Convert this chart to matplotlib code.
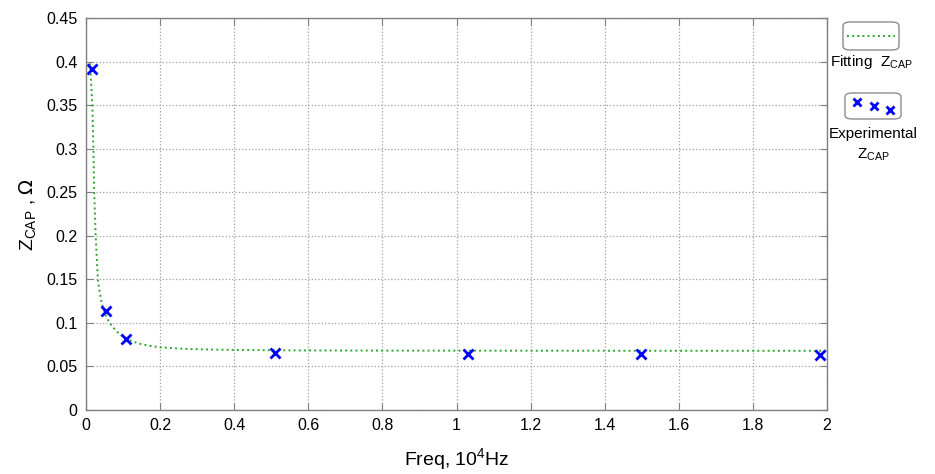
import matplotlib.pyplot as plt
import matplotlib.patches as mpatches
from matplotlib.lines import Line2D
import numpy as np

plt.rcParams['font.family'] = ['Liberation Sans', 'DejaVu Sans']

# fitted curve
fit_f = [0.011, 0.017, 0.020, 0.022, 0.026, 0.032, 0.037, 0.042, 0.047, 0.054,
         0.061, 0.069, 0.077, 0.086, 0.097, 0.11, 0.127, 0.146, 0.17, 0.20,
         0.24, 0.28, 0.34, 0.40, 0.50, 0.58, 0.80, 1.12, 1.5, 2.0]
fit_z = [0.398, 0.35, 0.30, 0.25, 0.20, 0.15, 0.135, 0.124, 0.116, 0.108,
         0.102, 0.097, 0.093, 0.089, 0.085, 0.0815, 0.0785, 0.076, 0.0737, 0.0720,
         0.0708, 0.0700, 0.0694, 0.0690, 0.0686, 0.0684, 0.0682, 0.0681, 0.0680, 0.0680]

# measured points
exp_f = [0.016, 0.054, 0.108, 0.51, 1.031, 1.498, 1.981]
exp_z = [0.391, 0.114, 0.082, 0.065, 0.064, 0.064, 0.063]

xticks = np.arange(0, 2.01, 0.2)
yticks = np.arange(0, 0.451, 0.05)

fig = plt.figure(figsize=(9.35, 4.74), dpi=100, facecolor='white')
ax = fig.add_axes([0.092, 0.135, 0.7925, 0.827])

ax.plot(fit_f, fit_z, color='#2fa52f', linestyle=':', linewidth=1.4)
ax.plot(exp_f, exp_z, linestyle='none', marker='x', color='#0000ff',
        markersize=7, markeredgewidth=2)

ax.set_xlim(0, 2)
ax.set_ylim(0, 0.45)
ax.set_xticks(xticks)
ax.set_xticklabels(['0', '0.2', '0.4', '0.6', '0.8', '1', '1.2', '1.4', '1.6', '1.8', '2'])
ax.set_yticks(yticks)
ax.set_yticklabels(['0', '0.05', '0.1', '0.15', '0.2', '0.25', '0.3', '0.35', '0.4', '0.45'])
ax.tick_params(direction='in', length=5, labelsize=11.5, color='#808080', pad=6,
               top=True, right=True)
ax.grid(True, linestyle=':', color='#a0a0a0', linewidth=0.9)
for s in ax.spines.values():
    s.set_color('#808080')
    s.set_linewidth(1.0)

ax.set_xlabel(r'Freq, $\mathregular{10^4}$Hz', fontsize=14, labelpad=9)
ax.set_ylabel(r'Z$\mathregular{_{CAP}}$ , $\Omega$', fontsize=14, labelpad=6)

# legend boxes drawn on the right, MATLAB-like
W, H = 935.0, 474.0
def box(x0, y0, w, h):
    p = mpatches.FancyBboxPatch((x0 / W, 1 - (y0 + h) / H), w / W, h / H,
                                boxstyle='round,pad=0,rounding_size=0.008',
                                transform=fig.transFigure, facecolor='white',
                                edgecolor='#8c8c8c', linewidth=1.0)
    fig.add_artist(p)

box(843, 22, 56, 28)
fig.add_artist(Line2D([847 / W, 895 / W], [1 - 36 / H, 1 - 36 / H],
                      transform=fig.transFigure, color='#2fa52f',
                      linestyle=':', linewidth=1.4))
fig.text(871 / W, 1 - 62 / H, r'Fitting  Z$\mathregular{_{CAP}}$',
         ha='center', va='center', fontsize=11)

box(845, 93, 56, 26)
fig.add_artist(Line2D([857 / W, 874 / W, 890 / W],
                      [1 - 102 / H, 1 - 106 / H, 1 - 110 / H],
                      transform=fig.transFigure, linestyle='none', marker='x',
                      color='#0000ff', markersize=6, markeredgewidth=2))
fig.text(873 / W, 1 - 134 / H, 'Experimental', ha='center', va='center', fontsize=11)
fig.text(873 / W, 1 - 155 / H, r'Z$\mathregular{_{CAP}}$', ha='center',
         va='center', fontsize=11)

fig.savefig('out.png', dpi=100, facecolor='white')
